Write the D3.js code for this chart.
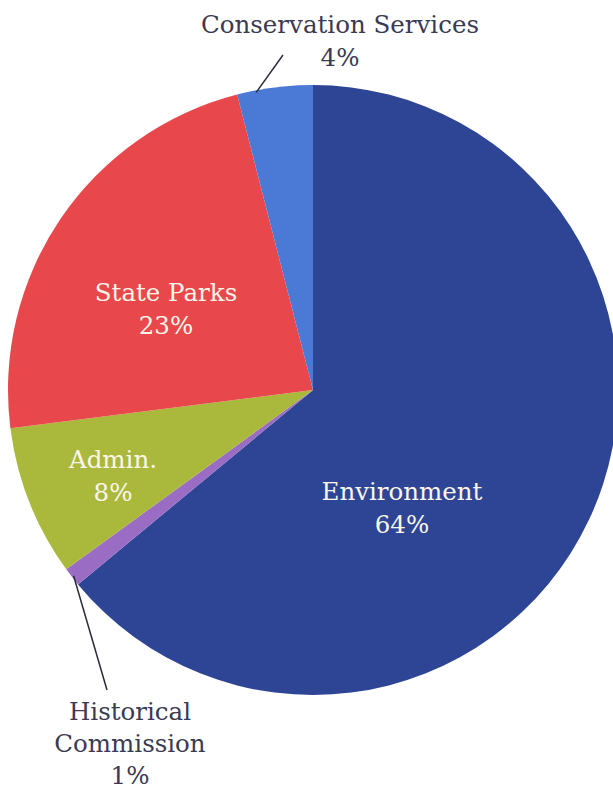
<!DOCTYPE html>
<html><head><meta charset="utf-8">
<script src="https://cdn.jsdelivr.net/npm/d3@7"></script>
<style>body{margin:0;background:#fff}svg{display:block}</style>
</head><body>
<script>
const categories = ["Environment","Historical Commission","Admin.","State Parks","Conservation Services"];
const values = [64, 1, 8, 23, 4];
const colors = ["#2e4596","#9a6cc4","#aab83c","#e8484b","#4a79d6"];

const W = 613, H = 792, cx = 313, cy = 390, R = 305;
const svg = d3.select("body").append("svg").attr("width", W).attr("height", H);
const g = svg.append("g").attr("transform", `translate(${cx},${cy})`);
const data = categories.map((c,i)=>({name:c, value:values[i], color:colors[i]}));
const pie = d3.pie().value(d=>d.value).sort(null);
const arc = d3.arc().innerRadius(0).outerRadius(R);
const arcs = pie(data);
g.selectAll("path").data(arcs).join("path").attr("d", arc).attr("fill", d=>d.data.color);

const font = "DejaVu Serif";
function label(x, y, lines, fill, gap) {
  const t = svg.append("text").attr("x", x).attr("y", y).attr("text-anchor","middle")
    .attr("font-family", font).attr("font-size", 24.5).attr("fill", fill);
  lines.forEach((l,i)=>t.append("tspan").attr("x", x).attr("dy", i===0?0:(gap||33)).text(l));
}
const inside = "#fbf6ea", outside = "#3a3a52";
label(402, 500, [categories[0], values[0]+"%"], inside);
label(166, 301, [categories[3], values[3]+"%"], inside);
label(113, 468, [categories[2], values[2]+"%"], inside);
label(340, 33, [categories[4], values[4]+"%"], outside);
label(130, 720, ["Historical", "Commission", values[1]+"%"], outside, 32);

function edge(a, r){ return [cx + Math.sin(a)*r, cy - Math.cos(a)*r]; }
const cs = arcs[4], hc = arcs[1];
const p1 = edge(cs.startAngle + (cs.endAngle-cs.startAngle)*0.25, R-2);
svg.append("line").attr("x1", p1[0]).attr("y1", p1[1]).attr("x2", 283).attr("y2", 55)
  .attr("stroke", "#2a2a3a").attr("stroke-width", 1.5);
const p2 = edge(hc.startAngle + (hc.endAngle-hc.startAngle)*0.5, R-2);
svg.append("line").attr("x1", p2[0]).attr("y1", p2[1]).attr("x2", 107).attr("y2", 690)
  .attr("stroke", "#2a2a3a").attr("stroke-width", 1.5);
</script>
</body></html>
